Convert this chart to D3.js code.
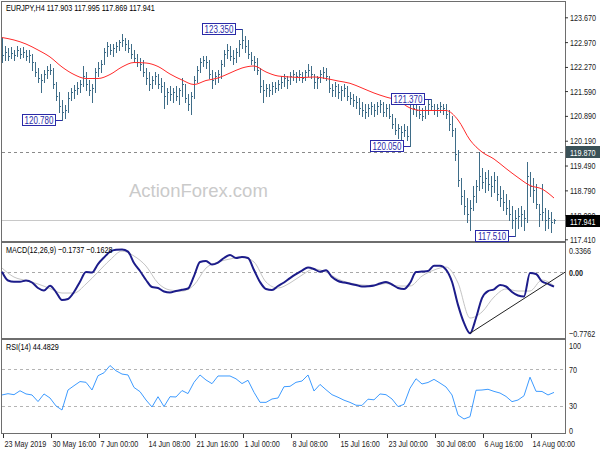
<!DOCTYPE html>
<html><head><meta charset="utf-8">
<script src="https://cdn.jsdelivr.net/npm/d3@7"></script>
<style>
body{margin:0;background:#fff;}
svg{display:block;font-family:"Liberation Sans",Arial,sans-serif;}
</style></head><body>
<svg id="c" width="600" height="450"></svg>
<script>
const symbol = "EURJPY,H4";
const lastOHLC = [117.903, 117.995, 117.869, 117.941];
const opens = [
122.92,122.61,122.69,122.58,122.66,122.61,122.75,122.64,122.69,122.58,
122.61,122.41,122.13,121.96,121.90,122.07,122.18,122.18,121.79,121.45,
121.17,121.00,121.06,121.39,121.56,121.62,121.68,121.79,122.02,121.79,
121.62,121.68,122.13,122.24,122.35,122.69,122.86,122.75,122.80,122.86,
122.97,123.03,122.92,122.80,122.64,122.52,122.41,122.35,122.13,121.96,
121.79,121.90,122.02,121.79,121.73,121.45,121.56,121.51,121.56,121.45,
121.62,121.79,121.39,121.23,121.45,121.90,122.18,122.41,122.47,122.41,
122.07,121.90,122.02,122.07,122.35,122.64,122.75,122.58,122.52,122.69,
122.92,123.03,122.86,122.64,122.47,122.41,122.18,121.73,121.62,121.68,
121.62,121.73,121.68,121.79,121.85,121.96,121.90,122.02,122.07,122.02,
122.07,121.96,122.13,122.18,122.07,121.85,121.96,122.07,122.13,122.02,
121.68,121.62,121.73,121.56,121.62,121.68,121.45,121.39,121.34,121.28,
121.11,121.06,121.00,121.11,121.17,121.06,121.17,121.23,121.00,121.11,
120.89,120.66,120.49,120.55,120.44,120.49,120.32,121.23,121.11,121.06,
120.94,120.89,121.06,121.23,121.17,121.06,121.11,121.17,121.11,120.94,
120.66,120.49,119.82,119.08,118.63,118.35,118.12,118.29,118.63,118.91,
119.19,119.03,119.14,118.97,118.91,119.08,118.69,118.57,118.46,118.29,
118.12,117.95,118.01,118.07,118.12,118.01,119.19,118.91,118.80,118.41,
118.12,118.18,117.95,118.01,117.903];
const highs = [
123.09,122.86,122.80,122.83,122.75,122.86,122.80,122.83,122.75,122.75,
122.64,122.41,122.24,122.07,122.18,122.30,122.35,122.24,121.85,121.56,
121.34,121.20,121.56,121.68,121.76,121.85,121.90,122.30,122.13,121.90,
121.79,122.24,122.41,122.47,122.80,122.97,122.92,122.92,122.97,123.03,
123.20,123.09,123.03,122.92,122.75,122.64,122.52,122.47,122.24,122.13,
122.02,122.13,122.07,121.96,121.85,121.68,121.73,121.68,121.73,121.68,
121.96,121.79,121.51,121.56,122.02,122.30,122.52,122.58,122.58,122.47,
122.18,122.13,122.18,122.47,122.75,122.92,122.86,122.75,122.80,123.03,
123.35,123.14,123.03,122.69,122.58,122.52,122.24,121.90,121.79,121.79,
121.85,121.85,121.90,122.02,122.07,122.02,122.13,122.18,122.13,122.18,
122.13,122.18,122.35,122.30,122.07,122.02,122.18,122.27,122.24,122.02,
121.79,121.85,121.79,121.73,121.79,121.73,121.56,121.51,121.45,121.39,
121.28,121.23,121.23,121.28,121.23,121.28,121.34,121.28,121.23,121.23,
120.94,120.83,120.66,120.61,120.66,120.61,121.34,121.28,121.23,121.17,
121.11,121.17,121.34,121.37,121.23,121.23,121.28,121.23,121.23,121.06,
120.89,120.55,119.93,119.14,118.80,118.57,118.52,118.91,119.08,119.87,
119.42,119.31,119.36,119.19,119.31,119.19,118.91,118.80,118.69,118.52,
118.35,118.24,118.29,118.35,118.24,119.59,119.31,119.14,118.97,118.41,
118.97,118.29,118.24,118.18,117.995];
const lows = [
122.41,122.47,122.47,122.52,122.47,122.58,122.52,122.55,122.47,122.41,
122.18,122.02,121.85,121.56,121.85,121.96,122.07,121.68,121.34,121.00,
120.78,120.83,121.00,121.34,121.39,121.51,121.56,121.73,121.62,121.48,
121.28,121.56,122.02,122.13,122.35,122.58,122.64,122.58,122.69,122.75,
122.86,122.75,122.69,122.52,122.41,122.30,122.18,122.02,121.79,121.62,
121.68,121.79,121.68,121.56,121.11,121.23,121.34,121.28,121.34,121.23,
121.45,121.28,121.06,120.94,121.39,121.85,122.13,122.30,122.24,121.96,
121.68,121.79,121.85,121.96,122.30,122.52,122.47,122.35,122.41,122.58,
122.80,122.69,122.52,122.35,122.18,122.07,121.56,121.28,121.45,121.45,
121.51,121.56,121.62,121.68,121.73,121.68,121.79,121.90,121.85,121.90,
121.85,121.90,122.02,121.96,121.68,121.68,121.85,121.96,121.90,121.56,
121.45,121.45,121.39,121.34,121.45,121.34,121.23,121.17,121.11,120.94,
120.89,120.83,120.89,120.94,120.89,120.94,121.00,120.89,120.89,120.83,
120.55,120.38,120.27,120.21,120.32,120.21,120.05,120.94,120.89,120.83,
120.77,120.83,120.94,121.06,120.94,120.89,121.00,120.94,120.83,120.49,
120.32,119.65,118.91,118.41,118.12,117.90,117.67,118.24,118.46,118.80,
118.86,118.74,118.80,118.63,118.74,118.52,118.35,118.24,118.12,117.95,
117.73,117.51,117.73,117.79,117.67,117.90,118.63,118.46,118.29,117.79,
117.95,117.67,117.73,117.62,117.869];
const closes = [
122.61,122.69,122.58,122.66,122.61,122.75,122.64,122.69,122.58,122.61,
122.41,122.13,121.96,121.90,122.07,122.18,122.18,121.79,121.45,121.17,
121.00,121.06,121.39,121.56,121.62,121.68,121.79,122.02,121.79,121.62,
121.68,122.13,122.24,122.35,122.69,122.86,122.75,122.80,122.86,122.97,
123.03,122.92,122.80,122.64,122.52,122.41,122.35,122.13,121.96,121.79,
121.90,122.02,121.79,121.73,121.45,121.56,121.51,121.56,121.45,121.62,
121.79,121.39,121.23,121.45,121.90,122.18,122.41,122.47,122.41,122.07,
121.90,122.02,122.07,122.35,122.64,122.75,122.58,122.52,122.69,122.92,
123.03,122.86,122.64,122.47,122.41,122.18,121.73,121.62,121.68,121.62,
121.73,121.68,121.79,121.85,121.96,121.90,122.02,122.07,122.02,122.07,
121.96,122.13,122.18,122.07,121.85,121.96,122.07,122.13,122.02,121.68,
121.62,121.73,121.56,121.62,121.68,121.45,121.39,121.34,121.28,121.11,
121.06,121.00,121.11,121.17,121.06,121.17,121.23,121.00,121.11,120.89,
120.66,120.49,120.55,120.44,120.49,120.32,121.23,121.11,121.06,120.94,
120.89,121.06,121.23,121.17,121.06,121.11,121.17,121.11,120.94,120.66,
120.49,119.82,119.08,118.63,118.35,118.12,118.29,118.63,118.91,119.19,
119.03,119.14,118.97,118.91,119.08,118.69,118.57,118.46,118.29,118.12,
117.95,118.01,118.07,118.12,118.01,119.19,118.91,118.80,118.41,118.12,
118.18,117.95,118.01,117.90,117.941];
// moving average, one value every 4 bars
const maStep = 4;
const maVals = [
123.100,123.030,122.917,122.748,122.551,122.269,122.057,121.944,121.944,122.057,
122.269,122.395,122.381,122.283,122.071,121.902,121.775,121.888,121.958,122.099,
122.240,122.297,122.128,122.015,121.987,121.972,121.987,121.944,121.874,121.809,
121.676,121.535,121.422,121.324,121.112,121.042,121.042,121.042,120.774,120.210,
119.871,119.674,119.406,119.152,118.927,118.828,118.574];
// MACD main, one value every 2 bars
const macdStep = 2;
const macdMain = [
0.005,-0.100,-0.115,-0.115,-0.100,-0.124,-0.190,-0.220,-0.163,-0.238,
-0.334,-0.322,-0.238,-0.115,0.001,-0.005,0.097,0.175,0.244,0.267,
0.270,0.246,0.109,0.013,-0.094,-0.178,-0.190,-0.232,-0.244,-0.226,
-0.211,-0.196,-0.047,0.121,0.133,0.091,0.115,0.169,0.205,0.169,
0.181,0.169,0.025,-0.118,-0.202,-0.214,-0.166,-0.124,-0.071,-0.023,
0.019,0.055,0.037,0.005,0.023,-0.059,-0.106,-0.124,-0.139,-0.154,
-0.172,-0.169,-0.160,-0.136,-0.118,-0.148,-0.190,-0.202,-0.130,0.001,
0.007,0.013,0.077,0.077,0.031,-0.115,-0.392,-0.608,-0.732,-0.549,
-0.310,-0.226,-0.206,-0.154,-0.172,-0.238,-0.280,-0.292,-0.011,-0.023,
-0.112,-0.140,-0.174];
// MACD signal, one value every 4 bars
const sigStep = 4;
const macdSignal = [
0.049,-0.059,-0.100,-0.142,-0.196,-0.250,-0.250,-0.142,0.001,0.145,
0.252,0.193,0.073,-0.131,-0.214,-0.226,-0.154,0.049,0.121,0.157,
0.181,0.121,-0.118,-0.190,-0.130,-0.035,0.037,0.001,-0.083,-0.130,
-0.154,-0.160,-0.136,-0.166,-0.166,-0.047,0.025,0.061,-0.130,-0.549,
-0.477,-0.298,-0.202,-0.226,-0.226,-0.094,-0.163];
// RSI, one value every 2 bars
const rsiStep = 2;
const rsiVals = [
41.7,43.1,42.0,46.3,42.8,41.7,34.5,42.8,38.4,29.7,
25.3,47.1,51.8,56.3,55.5,47.1,62.7,65.9,73.8,68.1,
64.5,63.5,49.9,45.3,36.2,28.6,39.8,29.0,39.8,39.5,
46.5,43.2,55.5,63.5,58.0,54.0,62.4,62.4,62.4,59.3,
54.1,57.7,44.6,33.7,33.6,37.3,38.4,50.7,51.1,55.5,
56.9,63.5,46.0,53.2,47.4,42.0,39.2,36.0,33.6,30.5,
30.3,37.1,36.4,42.8,42.0,37.3,29.0,31.5,49.0,59.4,
53.7,55.3,58.7,54.7,50.4,41.7,19.9,15.5,18.0,46.8,
47.1,47.9,45.6,43.8,40.1,34.4,36.2,40.8,61.1,45.7,
45.5,41.7,44.48];
const priceTicks = [123.670,122.970,122.270,121.590,120.890,120.190,119.490,118.790,118.090,117.410];
const priceMin = 117.41, priceMax = 123.67;
const hLinePrice = 119.870;
const timeTickIdx = [0,16,32,48,64,80,96,112,128,144,160,176];
const timeTickLabels = ["23 May 2019","30 May 16:00","7 Jun 00:00","14 Jun 08:00","21 Jun 16:00","1 Jul 00:00","8 Jul 08:00","15 Jul 16:00","23 Jul 00:00","30 Jul 08:00","6 Aug 16:00","14 Aug 00:00"];
const swingIdx = [20, 80, 136, 143, 171];
const swingPrice = [120.780, 123.350, 120.050, 121.370, 117.510];
const macdLabel = "MACD(12,26,9)";
const macdLast = [-0.1737, -0.1628];
const macdTicks = [0.3366, 0, -0.7762];
const trendIdx = [156, 187.7];
const trendVal = [-0.732, 0.0];
const rsiLabel = "RSI(14)";
const rsiLast = 44.4829;
const rsiTicks = [100, 70, 30, 0];
const watermark = "ActionForex.com";

const svg = d3.select("#c");
const L = 2, R = 565;
const nBars = closes.length;
const x = d3.scaleLinear().domain([0, nBars - 1]).range([2, 554]);
const yP = d3.scaleLinear().domain([priceMin, priceMax]).range([239.3, 17.3]);
const yM = d3.scaleLinear().domain([macdTicks[2], macdTicks[0]]).range([337, 244]);
const yR = d3.scaleLinear().domain([0, 100]).range([433.2, 341.5]);
const px = v => Math.round(v) + 0.5;
const FS = "9.5px";
const SQ = 0.76; // horizontal condensing of the small terminal-style labels

const frame = "#6e6e6e";
[[1.5,241.5],[242.5,338.5],[339.5,433.5]].forEach(([t,b])=>{
  svg.append("rect").attr("x",L-0.5).attr("y",t).attr("width",R-L+1).attr("height",b-t)
    .attr("fill","none").attr("stroke",frame).attr("stroke-width",1).attr("shape-rendering","crispEdges");
});

// watermark
svg.append("text").attr("x",129).attr("y",197).text(watermark)
  .style("font-size","18.5px").attr("fill","#cacaca");

const gP = svg.append("g");
gP.append("line").attr("x1",L).attr("x2",R).attr("y1",px(yP(hLinePrice))).attr("y2",px(yP(hLinePrice)))
  .attr("stroke","#8a8a8a").attr("stroke-dasharray","3,3").attr("shape-rendering","crispEdges");
gP.append("line").attr("x1",L).attr("x2",R).attr("y1",px(yP(lastOHLC[3]))).attr("y2",px(yP(lastOHLC[3])))
  .attr("stroke","#c8c8c8").attr("shape-rendering","crispEdges");

// OHLC bars
const barColor = "#3f6d88";
const bars = gP.append("g").attr("stroke",barColor).attr("stroke-width",1).attr("shape-rendering","crispEdges");
closes.forEach((c,i)=>{
  const cx = px(x(i));
  bars.append("line").attr("x1",cx).attr("x2",cx).attr("y1",Math.round(yP(highs[i]))).attr("y2",Math.round(yP(lows[i]))+1);
  bars.append("line").attr("x1",cx-1).attr("x2",cx).attr("y1",px(yP(opens[i]))).attr("y2",px(yP(opens[i])));
  bars.append("line").attr("x1",cx).attr("x2",cx+1.5).attr("y1",px(yP(c))).attr("y2",px(yP(c)));
});

// moving average
gP.append("path").datum(maVals)
  .attr("d", d3.line().x((d,i)=>x(i*maStep)).y(d=>yP(d)).curve(d3.curveMonotoneX))
  .attr("fill","none").attr("stroke","#ff2a2a").attr("stroke-width",1);

// swing labels
const fmt3 = d3.format(".3f");
const labColor = "#2a2aa8";
swingIdx.forEach((idx,k)=>{
  const bx = x(idx), by = yP(swingPrice[k]);
  const w = 33, h = 11, gap = 7;
  gP.append("line").attr("x1",bx-gap).attr("x2",bx).attr("y1",px(by)).attr("y2",px(by))
    .attr("stroke",labColor).attr("shape-rendering","crispEdges");
  gP.append("rect").attr("x",Math.round(bx-gap-w)+0.5).attr("y",Math.round(by-h/2)+0.5).attr("width",w).attr("height",h)
    .attr("fill","#fff").attr("stroke",labColor).attr("shape-rendering","crispEdges");
  gP.append("text").attr("class","sq").attr("x",bx-gap-w/2+0.5).attr("y",by+4).attr("text-anchor","middle")
    .style("font-size","10.5px").attr("fill",labColor).text(fmt3(swingPrice[k]));
});

// title
svg.append("text").attr("class","sq").attr("x",6).attr("y",11).style("font-size",FS).attr("fill","#000")
  .text(symbol + "  " + lastOHLC.map(fmt3).join(" "));

// price axis
const axP = svg.append("g").attr("transform",`translate(${R},0)`)
  .call(d3.axisRight(yP).tickValues(priceTicks).tickSize(3).tickFormat(fmt3));
axP.select(".domain").remove();
axP.selectAll("line").attr("stroke","#333");
axP.selectAll("text").attr("class","sq").attr("x",5).style("font-size",FS).attr("fill","#222").style("font-family","inherit");

function axisBox(val, bg, shift){
  const yy = yP(val) + shift;
  svg.append("rect").attr("x",566).attr("y",Math.round(yy-6)).attr("width",34).attr("height",12).attr("fill",bg);
  svg.append("text").attr("class","sq").attr("x",570).attr("y",yy+3.5).style("font-size",FS).attr("fill","#fff").text(fmt3(val));
}
axisBox(hLinePrice, "#3a5157", 0);
axisBox(lastOHLC[3], "#000", 1);

// MACD panel
const gM = svg.append("g");
gM.append("line").attr("x1",L).attr("x2",R).attr("y1",px(yM(0))).attr("y2",px(yM(0)))
  .attr("stroke","#a8a8a8").attr("stroke-dasharray","3,3").attr("shape-rendering","crispEdges");
gM.append("path").datum(macdSignal)
  .attr("d", d3.line().x((d,i)=>x(i*sigStep)).y(d=>yM(d)).curve(d3.curveMonotoneX))
  .attr("fill","none").attr("stroke","#c4c4c4").attr("stroke-width",1);
gM.append("path").datum(macdMain)
  .attr("d", d3.line().x((d,i)=>x(i*macdStep)).y(d=>yM(d)).curve(d3.curveMonotoneX))
  .attr("fill","none").attr("stroke","#1c1c8a").attr("stroke-width",2).attr("stroke-linejoin","round");
gM.append("line").attr("x1",x(trendIdx[0])).attr("y1",yM(trendVal[0])).attr("x2",x(trendIdx[1])).attr("y2",yM(trendVal[1]))
  .attr("stroke","#222").attr("stroke-width",1);
svg.append("text").attr("class","sq").attr("x",6).attr("y",253).style("font-size",FS).attr("fill","#000")
  .text(macdLabel + " " + macdLast.map(d3.format(".4f")).join(" "));
const axM = svg.append("g").attr("transform",`translate(${R},0)`)
  .call(d3.axisRight(yM).tickValues(macdTicks).tickSize(0).tickFormat(d=> d===0 ? "0.00" : d3.format(".4f")(d)));
axM.select(".domain").remove();
axM.selectAll("text").attr("class","sq").attr("x",4).style("font-size",FS).attr("fill","#222")
  .attr("dy",(d,i)=> i===0 ? "0.95em" : (i===2 ? "-0.1em" : "0.32em"))
  .style("font-weight",d=> d===0 ? "bold" : "normal");

// RSI panel
const gR = svg.append("g");
[70,30].forEach(v=>{
  gR.append("line").attr("x1",L).attr("x2",R).attr("y1",px(yR(v))).attr("y2",px(yR(v)))
    .attr("stroke","#b4b4b4").attr("stroke-dasharray","3,3").attr("shape-rendering","crispEdges");
});
gR.append("path").datum(rsiVals)
  .attr("d", d3.line().x((d,i)=>x(i*rsiStep)).y(d=>yR(d)))
  .attr("fill","none").attr("stroke","#3d9bff").attr("stroke-width",1);
svg.append("text").attr("class","sq").attr("x",6).attr("y",350).style("font-size",FS).attr("fill","#000")
  .text(rsiLabel + " " + d3.format(".4f")(rsiLast));
const axR = svg.append("g").attr("transform",`translate(${R},0)`)
  .call(d3.axisRight(yR).tickValues(rsiTicks).tickSize(0).tickFormat(d3.format("d")));
axR.select(".domain").remove();
axR.selectAll("text").attr("class","sq").attr("x",4).style("font-size",FS).attr("fill","#222")
  .attr("dy",d=> d===100 ? "0.75em" : (d===0 ? "0em" : "0.32em"));

// time axis
const axT = svg.append("g").attr("transform","translate(0,434)")
  .call(d3.axisBottom(x).tickValues(timeTickIdx).tickSize(4).tickFormat((d,i)=>timeTickLabels[i]));
axT.select(".domain").remove();
axT.selectAll("line").attr("stroke","#333").attr("shape-rendering","crispEdges")
  .attr("transform","translate(0.5,0)");
axT.selectAll("text").attr("class","sq").attr("text-anchor","start").attr("x",2).attr("y",6).style("font-size",FS).attr("fill","#222");

// condense the small label texts horizontally with a transform (keeps the anchor point fixed)
svg.selectAll("text.sq").each(function(){
  const x0 = parseFloat(this.getAttribute("x")) || 0;
  this.setAttribute("x", (x0 / SQ).toFixed(2));
  this.setAttribute("transform", `scale(${SQ},1)`);
});
</script>
</body></html>
